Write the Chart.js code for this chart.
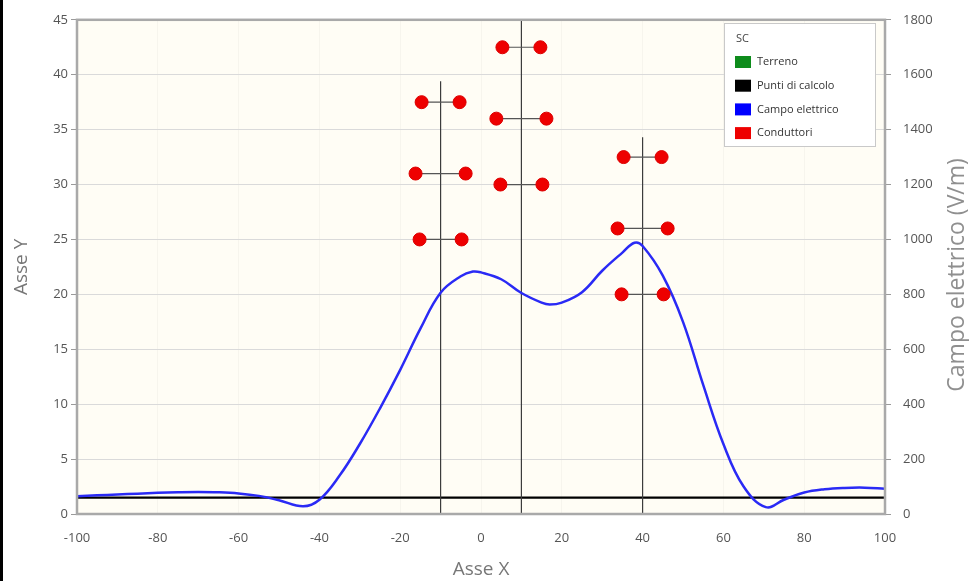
<!DOCTYPE html>
<html>
<head>
<meta charset="utf-8">
<title>SC - Campo elettrico</title>
<script src="https://cdn.jsdelivr.net/npm/chart.js@4.4.1/dist/chart.umd.min.js"></script>
<style>
  html, body { margin: 0; padding: 0; background: #fff; }
  #wrap { position: relative; width: 969px; height: 581px; }
  #edge { position: absolute; left: 0; top: 0; width: 3px; height: 581px; background: #000; }
</style>
</head>
<body>
<div id="wrap">
  <canvas id="chart" width="969" height="581"></canvas>
  <div id="edge"></div>
</div>
<script>
// axis ranges
const xRange = [-100, 100];
const yRange = [0, 45];
const eRange = [0, 1800];

// electric field profile (V/m) along X
const fieldX = [-100, -95, -90, -85, -80, -75, -70, -65, -60, -55, -50, -44, -40, -35, -30, -25, -20, -15, -10, -5, -2, 0,
  5, 10, 15, 17, 20, 25, 30, 35, 38, 40, 45, 50, 55, 60, 65, 70.5, 75, 80, 85, 90, 95, 100];
const fieldE = [65, 68, 71, 74, 77, 79, 80, 79, 75, 66, 50, 28, 52, 140, 255, 385, 525, 675, 806, 866, 883, 880,
  855, 805, 770, 763, 770, 808, 886, 952, 988, 976, 868, 700, 470, 255, 100, 25, 52, 78, 90, 95, 96, 92];

// calculation points line and ground
const puntiY = 1.5;
const terrenoY = 0;

// towers
const towerX = [-10, 10, 40];
const towerTop = [39.4, 45, 34.3];

// conductors, listed in pairs (left, right) on each cross-arm
const condX = [-14.7, -5.3, -16.2, -3.8, -15.2, -4.8,
  5.3, 14.7, 3.8, 16.2, 4.8, 15.2,
  35.3, 44.7, 33.8, 46.2, 34.8, 45.2];
const condY = [37.5, 37.5, 31, 31, 25, 25,
  42.5, 42.5, 36, 36, 30, 30,
  32.5, 32.5, 26, 26, 20, 20];

const legendTitle = 'SC';
const legendItems = [
  { label: 'Terreno', color: '#0e8c1c' },
  { label: 'Punti di calcolo', color: '#000000' },
  { label: 'Campo elettrico', color: '#0000ff' },
  { label: 'Conduttori', color: '#ee0000' }
];

const FONT = '"Open Sans", "DejaVu Sans", sans-serif';

// build point lists
const fieldPts = fieldX.map((x, i) => ({ x: x, y: fieldE[i] }));
const towerPts = [];
towerX.forEach((x, i) => {
  towerPts.push({ x: x, y: 0 }, { x: x, y: towerTop[i] }, { x: x, y: null });
});
const condPts = [];
for (let i = 0; i < condX.length; i += 2) {
  condPts.push({ x: condX[i], y: condY[i] }, { x: condX[i + 1], y: condY[i + 1] }, { x: condX[i], y: null });
}

const framePlugin = {
  id: 'frame',
  beforeDraw(chart) {
    const { ctx, chartArea: a } = chart;
    ctx.save();
    ctx.fillStyle = '#fffdf5';
    ctx.fillRect(a.left, a.top, a.right - a.left, a.bottom - a.top);
    ctx.restore();
  },
  afterDatasetsDraw(chart) {
    const { ctx, chartArea: a } = chart;
    ctx.save();
    ctx.strokeStyle = '#a9a9a9';
    ctx.lineWidth = 2.5;
    ctx.strokeRect(a.left, a.top, a.right - a.left, a.bottom - a.top);
    ctx.restore();
  },
  afterDraw(chart) {
    const { ctx, chartArea: a } = chart;
    ctx.save();
    // legend box
    const bx = 724, by = 23, bw = 151, bh = 123;
    ctx.fillStyle = '#ffffff';
    ctx.fillRect(bx, by, bw, bh);
    ctx.strokeStyle = '#c9c9c9';
    ctx.lineWidth = 1;
    ctx.strokeRect(bx + 0.5, by + 0.5, bw, bh);
    ctx.font = '11px ' + FONT;
    ctx.textBaseline = 'middle';
    ctx.fillStyle = '#444';
    ctx.fillText(legendTitle, 736, 39);
    legendItems.forEach((it, i) => {
      const cy = 62 + i * 23.7;
      ctx.fillStyle = it.color;
      ctx.fillRect(735, cy - 6, 16, 12);
      ctx.fillStyle = '#333';
      ctx.fillText(it.label, 757, cy);
    });
    // right axis title, reads bottom to top
    ctx.translate(957, (a.top + a.bottom) / 2 + 8);
    ctx.rotate(-Math.PI / 2);
    ctx.font = '23px ' + FONT;
    ctx.fillStyle = '#8f8f8f';
    ctx.textAlign = 'center';
    ctx.fillText('Campo elettrico (V/m)', 0, 0);
    ctx.restore();
  }
};

new Chart(document.getElementById('chart'), {
  type: 'scatter',
  data: {
    datasets: [
      {
        label: 'Conduttori',
        data: condPts,
        showLine: true,
        spanGaps: false,
        borderColor: '#555555',
        borderWidth: 1.2,
        pointRadius: 6.5,
        pointBackgroundColor: '#ee0000',
        pointBorderColor: '#dd0000',
        pointBorderWidth: 1,
        yAxisID: 'y',
        order: 0
      },
      {
        label: 'Campo elettrico',
        data: fieldPts,
        showLine: true,
        borderColor: '#2a2af5',
        borderWidth: 2.5,
        pointRadius: 0,
        tension: 0.4,
        yAxisID: 'y2',
        order: 1
      },
      {
        label: 'Sostegni',
        data: towerPts,
        showLine: true,
        spanGaps: false,
        borderColor: '#3c3c3c',
        borderWidth: 1.2,
        pointRadius: 0,
        yAxisID: 'y',
        order: 2
      },
      {
        label: 'Punti di calcolo',
        data: [{ x: xRange[0], y: puntiY }, { x: xRange[1], y: puntiY }],
        showLine: true,
        borderColor: '#000000',
        borderWidth: 2.2,
        pointRadius: 0,
        yAxisID: 'y',
        order: 3
      },
      {
        label: 'Terreno',
        data: [{ x: xRange[0], y: terrenoY }, { x: xRange[1], y: terrenoY }],
        showLine: true,
        borderColor: '#0e8c1c',
        borderWidth: 2,
        pointRadius: 0,
        yAxisID: 'y',
        order: 4
      }
    ]
  },
  options: {
    responsive: false,
    animation: false,
    devicePixelRatio: 1,
    layout: { padding: { top: 13, left: 0, right: 0, bottom: 0 } },
    plugins: {
      legend: { display: false },
      tooltip: { enabled: false }
    },
    scales: {
      x: {
        type: 'linear',
        min: xRange[0],
        max: xRange[1],
        afterFit: s => { s.height = 67; },
        border: { display: false },
        grid: { color: 'rgba(0,0,0,0.03)', drawTicks: false },
        ticks: { stepSize: 20, padding: 16, color: '#555', font: { family: FONT, size: 13 } },
        title: { display: true, text: 'Asse X', color: '#777', padding: { top: 0, bottom: 0 }, font: { family: FONT, size: 19 } }
      },
      y: {
        type: 'linear',
        position: 'left',
        min: yRange[0],
        max: yRange[1],
        afterFit: s => { s.width = 77; },
        border: { display: false },
        grid: { color: '#dadada', tickColor: '#9a9a9a', tickLength: 6 },
        ticks: { stepSize: 5, padding: 3, color: '#555', font: { family: FONT, size: 13 } },
        title: { display: true, text: 'Asse Y', color: '#777', padding: { top: 10 }, font: { family: FONT, size: 19 } }
      },
      y2: {
        type: 'linear',
        position: 'right',
        min: eRange[0],
        max: eRange[1],
        afterFit: s => { s.width = 84; },
        border: { display: false },
        grid: { drawOnChartArea: false, tickColor: '#9a9a9a', tickLength: 6 },
        ticks: { stepSize: 200, padding: 12, color: '#555', font: { family: FONT, size: 13 }, callback: v => String(v) }
      }
    }
  },
  plugins: [framePlugin]
});
</script>
</body>
</html>
